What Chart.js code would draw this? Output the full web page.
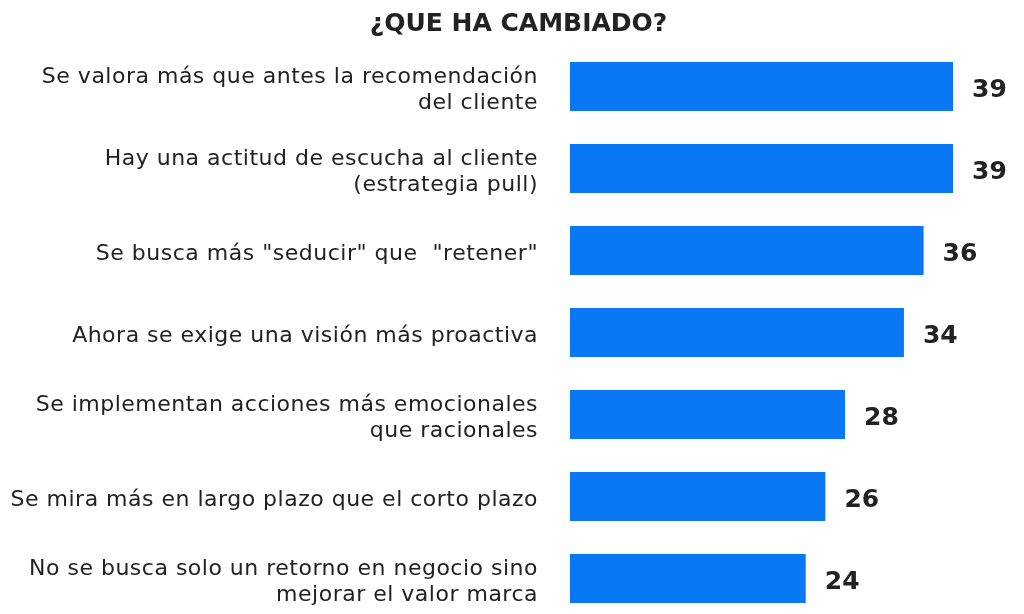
<!DOCTYPE html>
<html><head><meta charset="utf-8">
<script src="https://cdn.jsdelivr.net/npm/chart.js@4"></script>
<style>html,body{margin:0;padding:0;background:#fff;overflow:hidden}#wrap{width:1024px;height:614px}</style>
</head><body><div id="wrap"><canvas id="c" width="1024" height="614"></canvas></div>
<script>
const title = "¿QUE HA CAMBIADO?";
const categories = [
  ["Se valora más que antes la recomendación", "del cliente"],
  ["Hay una actitud de escucha al cliente", "(estrategia pull)"],
  ["Se busca más \"seducir\" que  \"retener\""],
  ["Ahora se exige una visión más proactiva"],
  ["Se implementan acciones más emocionales", "que racionales"],
  ["Se mira más en largo plazo que el corto plazo"],
  ["No se busca solo un retorno en negocio sino", "mejorar el valor marca"]
];
const values = [39, 39, 36, 34, 28, 26, 24];

const spacing = {
  id: 'spacing',
  beforeDraw(chart) {
    const ctx = chart.ctx;
    ctx.letterSpacing = '0.5px';
    const tb = chart.titleBlock;
    if (tb && !tb._patched) {
      const orig = tb.draw;
      tb.draw = function (a) {
        ctx.save();
        ctx.letterSpacing = '0px';
        ctx.translate(12.5, 0);
        orig.call(this, a);
        ctx.restore();
      };
      tb._patched = true;
    }
  }
};

const valueLabels = {
  id: 'valueLabels',
  afterDatasetsDraw(chart) {
    const ctx = chart.ctx;
    const meta = chart.getDatasetMeta(0);
    ctx.save();
    ctx.letterSpacing = '0px';
    ctx.font = 'bold 25px "DejaVu Sans"';
    ctx.fillStyle = '#222222';
    ctx.textAlign = 'left';
    ctx.textBaseline = 'middle';
    meta.data.forEach((bar, i) => {
      ctx.fillText(String(values[i]), bar.x + 19, bar.y + 4);
    });
    ctx.restore();
  }
};

new Chart(document.getElementById('c'), {
  type: 'bar',
  data: {
    labels: categories,
    datasets: [{
      data: values,
      backgroundColor: '#0a78f5',
      borderWidth: 0,
      barPercentage: 0.6,
      categoryPercentage: 1,
      clip: false
    }]
  },
  options: {
    indexAxis: 'y',
    responsive: false,
    animation: false,
    layout: { padding: { left: 0, right: 12, top: 0, bottom: 35.5 } },
    plugins: {
      legend: { display: false },
      tooltip: { enabled: false },
      title: {
        display: true,
        text: title,
        color: '#222222',
        font: { family: '"DejaVu Sans"', size: 25, weight: 'bold', lineHeight: 1.2 },
        padding: { top: 9.5, bottom: 47 }
      }
    },
    scales: {
      x: { display: false, min: 0, max: 45 },
      y: {
        offset: false,
        grid: { display: false, drawTicks: false },
        border: { display: false },
        afterFit(scale) { scale.width = 570; scale.paddingTop = 0; scale.paddingBottom = 0; },
        ticks: {
          padding: 32,
          labelOffset: 4,
          color: '#222222',
          font: { family: '"DejaVu Sans"', size: 22, lineHeight: 1.18 }
        }
      }
    }
  },
  plugins: [spacing, valueLabels]
});
</script>
</body></html>
